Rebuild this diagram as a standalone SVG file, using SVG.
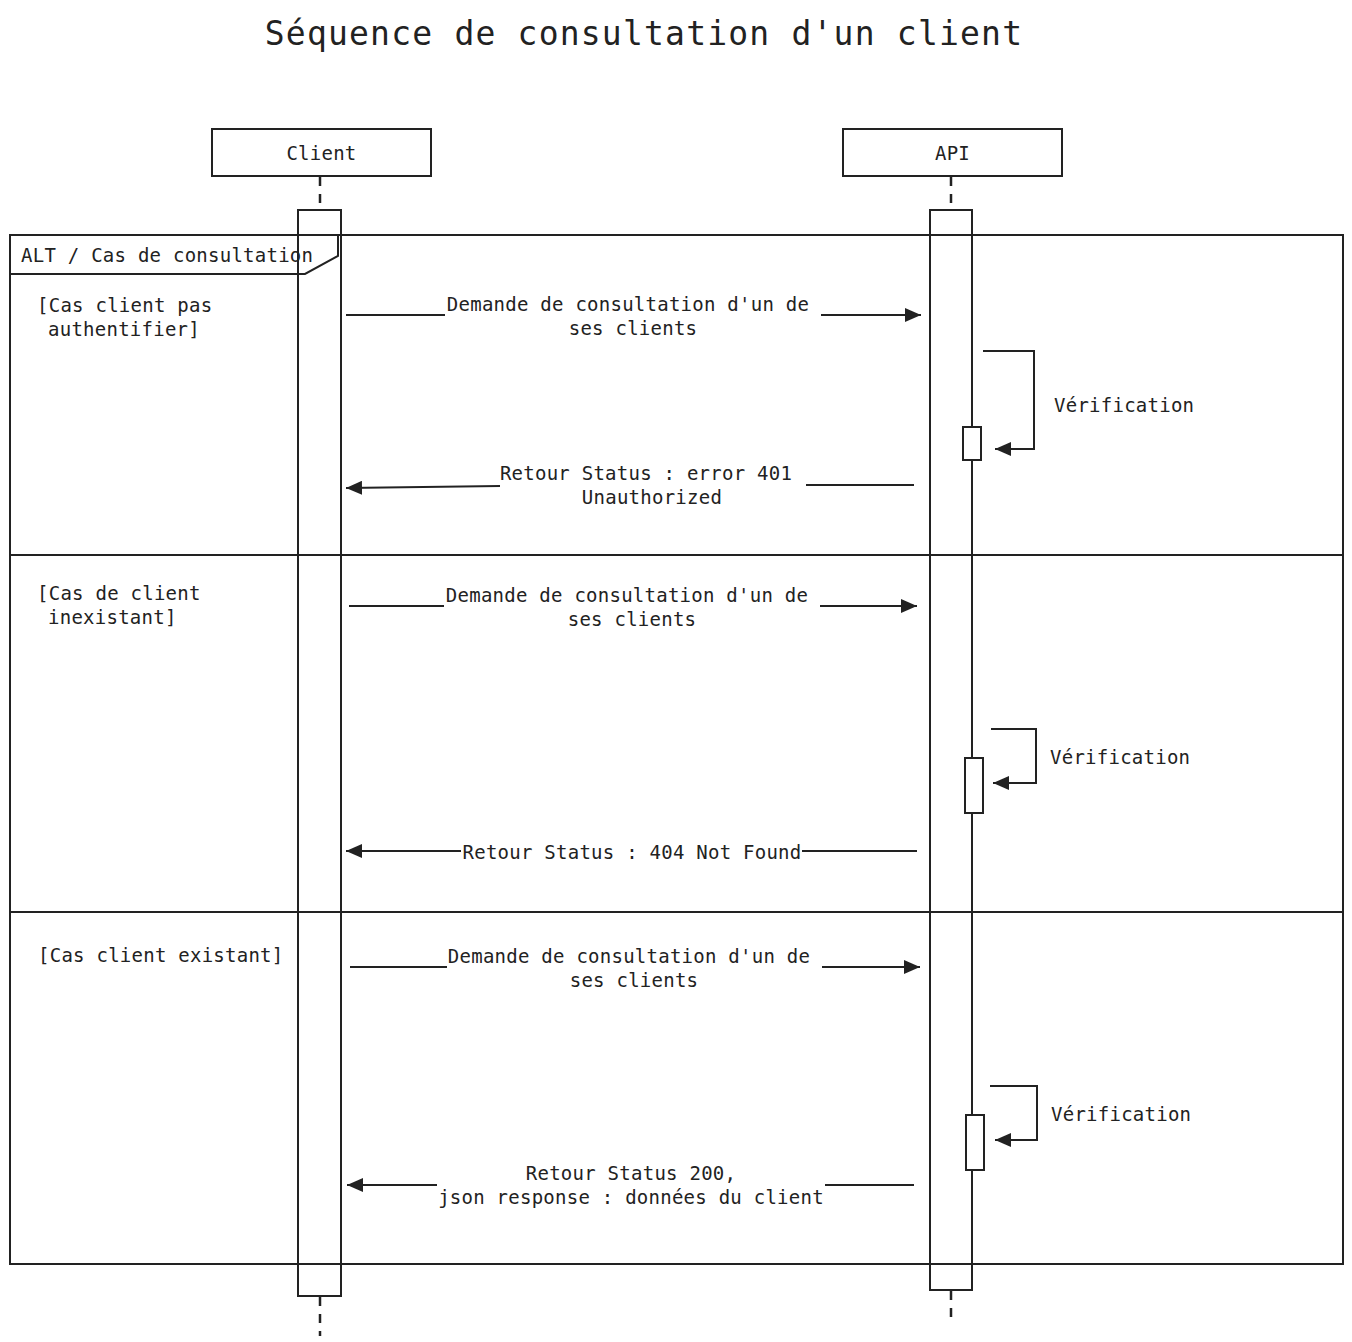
<svg xmlns="http://www.w3.org/2000/svg" width="1352" height="1342" viewBox="0 0 1352 1342">
<style>
  .ln{stroke:#222;stroke-width:2;fill:none}
  .box{stroke:#222;stroke-width:2;fill:#fff}
  .dash{stroke:#222;stroke-width:2.5;stroke-dasharray:9 8;fill:none}
  .t{font-family:"DejaVu Sans Mono","Liberation Mono",monospace;font-size:19px;letter-spacing:0.25px;fill:#222}
  .m{text-anchor:middle}
  .title{font-family:"DejaVu Sans Mono","Liberation Mono",monospace;font-size:33px;letter-spacing:1.2px;fill:#222;text-anchor:middle}
</style>
<defs>
  <marker id="ah" markerUnits="userSpaceOnUse" markerWidth="18" markerHeight="14" refX="16" refY="7" orient="auto">
    <path d="M0,0 L16,7 L0,14 Z" fill="#222"/>
  </marker>
</defs>
<rect width="1352" height="1342" fill="#fff"/>
<text class="title" x="644" y="45">Séquence de consultation d'un client</text>

<g id="client">
  <rect class="box" x="212" y="129" width="219" height="47"/>
  <text class="t m" x="321.5" y="160">Client</text>
  <line class="dash" x1="320" y1="177" x2="320" y2="210"/>
  <line class="dash" x1="320" y1="1297" x2="320" y2="1336"/>
</g>
<g id="api">
  <rect class="box" x="843" y="129" width="219" height="47"/>
  <text class="t m" x="952.5" y="160">API</text>
  <line class="dash" x1="951" y1="177" x2="951" y2="210"/>
  <line class="dash" x1="951" y1="1291" x2="951" y2="1322"/>
</g>

<g id="frame">
  <rect class="ln" x="10" y="235" width="1333" height="1029"/>
  <line class="ln" x1="10" y1="555" x2="1343" y2="555"/>
  <line class="ln" x1="10" y1="912" x2="1343" y2="912"/>
  <path class="ln" d="M10,274 L305,274 L338,256 L338,235"/>
  <text class="t" x="21" y="262">ALT / Cas de consultation</text>
  <text class="t" x="37" y="312">[Cas client pas</text>
  <text class="t" x="48" y="336">authentifier]</text>
  <text class="t" x="37" y="600">[Cas de client</text>
  <text class="t" x="48" y="624">inexistant]</text>
  <text class="t" x="38" y="962">[Cas client existant]</text>
</g>

<g id="client-activation">
  <rect class="ln" x="298" y="210" width="43" height="1086"/>
</g>
<g id="api-activation">
  <rect class="ln" x="930" y="210" width="42" height="1080"/>
</g>
<g id="api-exec-1"><rect class="box" x="963" y="427" width="18" height="33"/></g>
<g id="api-exec-2"><rect class="box" x="965" y="758" width="18" height="55"/></g>
<g id="api-exec-3"><rect class="box" x="966" y="1115" width="18" height="55"/></g>

<g id="connectors">
  <!-- section 1 -->
  <line class="ln" x1="346" y1="315" x2="445" y2="315"/>
  <line class="ln" x1="821" y1="315" x2="921" y2="315" marker-end="url(#ah)"/>
  <text class="t m" x="628" y="311">Demande de consultation d'un de</text>
  <text class="t m" x="633" y="335">ses clients</text>

  <path class="ln" d="M983,351 L1034,351 L1034,449 L995,449" marker-end="url(#ah)"/>
  <text class="t" x="1054" y="412">Vérification</text>

  <line class="ln" x1="914" y1="485" x2="806" y2="485"/>
  <line class="ln" x1="500" y1="486" x2="346" y2="488" marker-end="url(#ah)"/>
  <text class="t m" x="646" y="480">Retour Status : error 401</text>
  <text class="t m" x="652" y="504">Unauthorized</text>

  <!-- section 2 -->
  <line class="ln" x1="349" y1="606" x2="444" y2="606"/>
  <line class="ln" x1="820" y1="606" x2="917" y2="606" marker-end="url(#ah)"/>
  <text class="t m" x="627" y="602">Demande de consultation d'un de</text>
  <text class="t m" x="632" y="626">ses clients</text>

  <path class="ln" d="M991,729 L1036,729 L1036,783 L993,783" marker-end="url(#ah)"/>
  <text class="t" x="1050" y="764">Vérification</text>

  <line class="ln" x1="917" y1="851" x2="802" y2="851"/>
  <line class="ln" x1="461" y1="851" x2="346" y2="851" marker-end="url(#ah)"/>
  <text class="t m" x="632" y="859">Retour Status : 404 Not Found</text>

  <!-- section 3 -->
  <line class="ln" x1="350" y1="967" x2="447" y2="967"/>
  <line class="ln" x1="822" y1="967" x2="920" y2="967" marker-end="url(#ah)"/>
  <text class="t m" x="629" y="963">Demande de consultation d'un de</text>
  <text class="t m" x="634" y="987">ses clients</text>

  <path class="ln" d="M990,1086 L1037,1086 L1037,1140 L995,1140" marker-end="url(#ah)"/>
  <text class="t" x="1051" y="1121">Vérification</text>

  <line class="ln" x1="914" y1="1185" x2="825" y2="1185"/>
  <line class="ln" x1="437" y1="1185" x2="347" y2="1185" marker-end="url(#ah)"/>
  <text class="t m" x="631" y="1180">Retour Status 200,</text>
  <text class="t m" x="631" y="1204">json response : données du client</text>
</g>
</svg>
